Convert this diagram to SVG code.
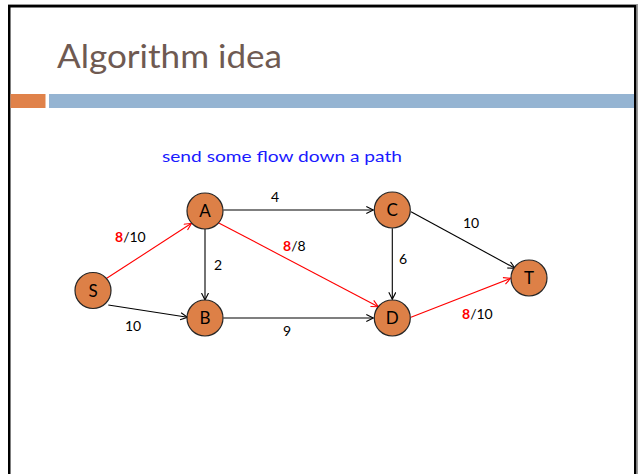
<svg xmlns="http://www.w3.org/2000/svg" width="640" height="474" viewBox="0 0 640 474">
<style>
.node{fill:#dd8047;stroke:#262626;stroke-width:1.2}
.nl{font-family:Lato,"DejaVu Sans",sans-serif;font-size:17px;fill:#000;text-anchor:middle}
.lbl{font-family:Lato,"DejaVu Sans",sans-serif;font-size:14px;fill:#000}
.red{fill:#ff0000;font-weight:bold}
.eb{stroke:#000;stroke-width:1.1;fill:none}
.er{stroke:#ff0000;stroke-width:1.1;fill:none}
</style>
<defs>
<marker id="ab" markerWidth="10" markerHeight="10" refX="7.5" refY="4" orient="auto" markerUnits="userSpaceOnUse">
<path d="M0.5,0.5 L7.5,4 L0.5,7.5" fill="none" stroke="#000" stroke-width="1.1"/>
</marker>
<marker id="ar" markerWidth="10" markerHeight="10" refX="7.5" refY="4" orient="auto" markerUnits="userSpaceOnUse">
<path d="M0.5,0.5 L7.5,4 L0.5,7.5" fill="none" stroke="#ff0000" stroke-width="1.1"/>
</marker>
</defs>
<rect width="640" height="474" fill="#fff"/>
<line x1="8" y1="4.5" x2="638" y2="4.5" stroke="#999" stroke-width="1"/>
<line x1="637.5" y1="4.5" x2="637.5" y2="474" stroke="#999" stroke-width="1"/>
<rect x="9.25" y="6.25" width="626" height="500" fill="none" stroke="#000" stroke-width="2.5"/>
<text x="57" y="68" font-family="Lato,'DejaVu Sans',sans-serif" font-size="32" fill="#6f5a52" textLength="225" lengthAdjust="spacingAndGlyphs">Algorithm idea</text>
<rect x="10.5" y="94" width="35" height="14" fill="#e0824a"/>
<rect x="49" y="94" width="585" height="14" fill="#95b4d2"/>
<text x="162" y="162" font-family="Lato,'DejaVu Sans',sans-serif" font-size="16" fill="#1a1aff" textLength="240" lengthAdjust="spacingAndGlyphs">send some flow down a path</text>
<g id="connectors">
<line class="er" x1="106.7" y1="278.3" x2="191.5" y2="223.3" marker-end="url(#ar)"/>
<line class="eb" x1="108.3" y1="305" x2="187.5" y2="317.3" marker-end="url(#ab)"/>
<line class="eb" x1="205" y1="229" x2="205" y2="300" marker-end="url(#ab)"/>
<line class="eb" x1="223.3" y1="210" x2="373.3" y2="210" marker-end="url(#ab)"/>
<line class="er" x1="218.3" y1="222.7" x2="378.3" y2="306.7" marker-end="url(#ar)"/>
<line class="eb" x1="223.3" y1="318" x2="373.3" y2="318" marker-end="url(#ab)"/>
<line class="eb" x1="392.3" y1="228.3" x2="392.3" y2="299.3" marker-end="url(#ab)"/>
<line class="eb" x1="411" y1="211.7" x2="515" y2="268.3" marker-end="url(#ab)"/>
<line class="er" x1="411" y1="317.3" x2="510.7" y2="278.3" marker-end="url(#ar)"/>
</g>
<g id="labels">
<text class="lbl" x="115" y="242"><tspan class="red">8</tspan>/10</text>
<text class="lbl" x="271" y="202">4</text>
<text class="lbl" x="214" y="270">2</text>
<text class="lbl" x="283" y="251"><tspan class="red">8</tspan>/8</text>
<text class="lbl" x="399" y="264">6</text>
<text class="lbl" x="463" y="228">10</text>
<text class="lbl" x="125" y="331">10</text>
<text class="lbl" x="283" y="336">9</text>
<text class="lbl" x="462" y="319"><tspan class="red">8</tspan>/10</text>
</g>
<g id="node-S"><circle class="node" cx="93" cy="290.5" r="18"/><text class="nl" x="93" y="296.5">S</text></g>
<g id="node-A"><circle class="node" cx="205" cy="211" r="18"/><text class="nl" x="205" y="217">A</text></g>
<g id="node-B"><circle class="node" cx="205" cy="318" r="18"/><text class="nl" x="205" y="324">B</text></g>
<g id="node-C"><circle class="node" cx="392.3" cy="210" r="18"/><text class="nl" x="392.3" y="216">C</text></g>
<g id="node-D"><circle class="node" cx="392.3" cy="318" r="18"/><text class="nl" x="392.3" y="324">D</text></g>
<g id="node-T"><circle class="node" cx="529" cy="278" r="18"/><text class="nl" x="529" y="284">T</text></g>
</svg>
